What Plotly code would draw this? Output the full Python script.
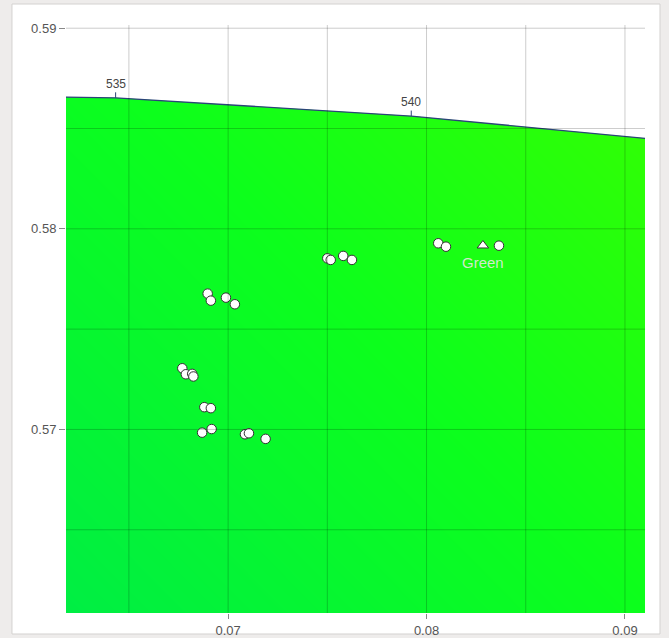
import plotly.graph_objects as go

# Spectral locus (CIE 1976 u', v') around the green region
LOCUS_NM = [530, 535, 540, 545]
LOCUS_U = [0.05007, 0.06433, 0.07923, 0.09526]
LOCUS_V = [0.58675, 0.58653, 0.58562, 0.58411]
LABELLED_NM = [535, 540]

# Measured chromaticity points
PTS_U = [0.06897, 0.06913, 0.06989, 0.07034,
         0.06769, 0.06787, 0.06819, 0.06825,
         0.06880, 0.06913,
         0.06869, 0.06917, 0.07085, 0.07105, 0.07189,
         0.07500, 0.07517, 0.07580, 0.07624,
         0.08059, 0.08098, 0.08365]
PTS_V = [0.57677, 0.57642, 0.57657, 0.57624,
         0.57305, 0.57275, 0.57277, 0.57264,
         0.57111, 0.57106,
         0.56984, 0.57002, 0.56976, 0.56981, 0.56953,
         0.57853, 0.57845, 0.57865, 0.57845,
         0.57928, 0.57911, 0.57916]

# Target (reference) point
TARGET_NAME = "Green"
TARGET_U = [0.08284]
TARGET_V = [0.57917]

X_RANGE = [0.06183, 0.09101]
Y_RANGE = [0.56085, 0.59016]
GRID_X = [0.065, 0.07, 0.075, 0.08, 0.085, 0.09]
GRID_Y = [0.565, 0.57, 0.575, 0.58, 0.585, 0.59]
X_TICKS = [0.07, 0.08, 0.09]
Y_TICKS = [0.57, 0.58, 0.59]

fig = go.Figure()

# Colour fill of the gamut region (diagonal gradient)
fig.add_trace(go.Heatmap(
    x=X_RANGE, y=Y_RANGE, z=[[0.0, 0.5], [0.5, 1.0]],
    zsmooth="best", showscale=False, hoverinfo="skip",
    colorscale=[[0.0, "#00ee44"], [0.5, "#0cff1c"], [1.0, "#38ff00"]],
))

# White area outside the spectral locus
fig.add_trace(go.Scatter(
    x=LOCUS_U + [LOCUS_U[-1], LOCUS_U[0]],
    y=LOCUS_V + [0.6, 0.6],
    mode="lines", fill="toself", fillcolor="white",
    line=dict(width=0), hoverinfo="skip", showlegend=False,
))

# Spectral locus line
fig.add_trace(go.Scatter(
    x=LOCUS_U, y=LOCUS_V, mode="lines",
    line=dict(color="#2b4478", width=1.3),
    hoverinfo="skip", showlegend=False,
))

# Measurement points
fig.add_trace(go.Scatter(
    x=PTS_U, y=PTS_V, mode="markers",
    marker=dict(symbol="circle", size=9.5, color="white",
                line=dict(color="#333333", width=1)),
    showlegend=False,
))

# Target point
fig.add_trace(go.Scatter(
    x=TARGET_U, y=TARGET_V, mode="markers",
    marker=dict(symbol="triangle-up", size=10, color="white",
                line=dict(color="#333333", width=1)),
    showlegend=False,
))

shapes = [
    # white card behind the chart
    dict(type="rect", xref="paper", yref="paper",
         x0=-0.0933, x1=1.0259, y0=-0.0357, y1=1.0357,
         fillcolor="white", line=dict(color="#d4d2d0", width=1), layer="below"),
]
for gx in GRID_X:
    shapes.append(dict(type="line", xref="x", yref="paper", x0=gx, x1=gx, y0=0, y1=1,
                       line=dict(color="rgba(0,0,0,0.2)", width=1), layer="above"))
for gy in GRID_Y:
    shapes.append(dict(type="line", xref="paper", yref="y", x0=0, x1=1, y0=gy, y1=gy,
                       line=dict(color="rgba(0,0,0,0.2)", width=1), layer="above"))

annotations = []
for nm in LABELLED_NM:
    i = LOCUS_NM.index(nm)
    annotations.append(dict(
        x=LOCUS_U[i], y=LOCUS_V[i], xref="x", yref="y", text=str(nm),
        showarrow=True, arrowhead=0, arrowwidth=1, arrowcolor="#2b4478",
        ax=0, ay=-14, font=dict(family="Liberation Sans, Arial", size=12, color="#444444"),
    ))
annotations.append(dict(
    x=TARGET_U[0], y=TARGET_V[0], xref="x", yref="y", text=TARGET_NAME,
    showarrow=False, yshift=-17,
    font=dict(family="Liberation Sans, Arial", size=15, color="rgba(222,232,218,0.95)"),
))

axis_font = dict(family="Liberation Sans, Arial", size=13, color="#555555")
fig.update_layout(
    width=669, height=638,
    margin=dict(l=66, r=24, t=25, b=25, autoexpand=False),
    paper_bgcolor="#eeeceb", plot_bgcolor="white",
    showlegend=False, hovermode=False,
    shapes=shapes, annotations=annotations,
    xaxis=dict(range=X_RANGE, tickvals=X_TICKS, ticktext=[f"{v:.2f}" for v in X_TICKS],
               showgrid=False, zeroline=False, showline=False, automargin=False,
               ticks="outside", ticklen=5, tickcolor="#888888",
               tickfont=axis_font),
    yaxis=dict(range=Y_RANGE, tickvals=Y_TICKS, ticktext=[f"{v:.2f}" for v in Y_TICKS],
               showgrid=False, zeroline=False, showline=False, automargin=False,
               ticks="outside", ticklen=6, tickcolor="#888888",
               tickfont=axis_font),
)

fig.write_html("out.html", config={"displayModeBar": False})
